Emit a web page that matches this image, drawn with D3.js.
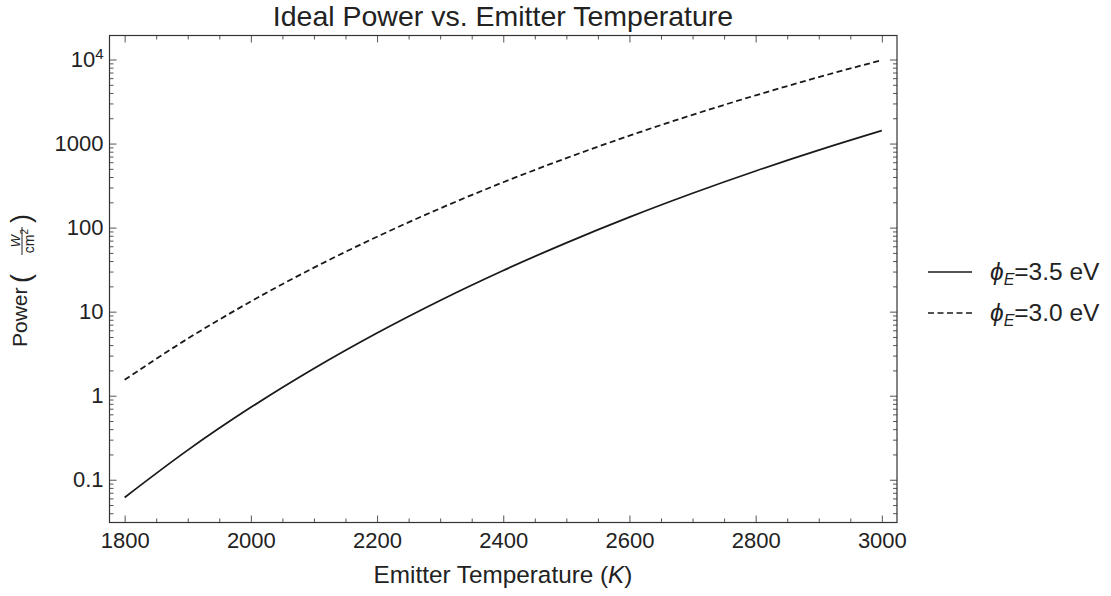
<!DOCTYPE html>
<html>
<head>
<meta charset="utf-8">
<script src="https://cdn.jsdelivr.net/npm/d3@7"></script>
<style>
  body { margin: 0; background: #fff; }
  text { font-family: "Liberation Sans", Arial, Helvetica, sans-serif; fill: #222; }
</style>
</head>
<body>
<svg id="chart" width="1111" height="596"></svg>
<script>
// Emitter temperature samples (K)
const temperatures = [1800, 1900, 2000, 2100, 2200, 2300, 2400, 2500, 2600, 2700, 2800, 2900, 3000];
// Ideal power density (W/cm^2) for each emitter work function
const power35 = [0.0616, 0.2252, 0.7266, 2.107, 5.570, 13.59, 30.88, 65.9, 133.2, 256.2, 471.6, 834.1, 1424];
const power30 = [1.548, 4.774, 13.22, 33.39, 77.86, 169.3, 346.4, 671.5, 1241, 2198, 3745, 6169, 9851];
const seriesLabels = ["=3.5 eV", "=3.0 eV"];
const seriesDash = [null, "6,3.5"];

// Axis ticks
const xMajorTicks = [1800, 2000, 2200, 2400, 2600, 2800, 3000];
const yMajorTicks = [0.1, 1, 10, 100, 1000, 10000];
const yTickLabels = ["0.1", "1", "10", "100", "1000", "10^4"];

const svg = d3.select("#chart");
const frame = { left: 109.5, right: 897, top: 35.5, bottom: 522.5 };

const x = d3.scaleLinear().domain([1776, 3024]).range([frame.left, frame.right]);
const y = d3.scaleLog().domain([0.031, 19300]).range([frame.bottom, frame.top]);

// minor ticks: every 50 K, and 2..9 within each decade
const xMinorTicks = d3.range(1800, 3001, 50).filter(v => !xMajorTicks.includes(v));
const yMinorTicks = [];
for (let e = -2; e <= 4; e++) for (let k = 2; k <= 9; k++) {
  const v = k * Math.pow(10, e);
  if (v > y.domain()[0] && v < y.domain()[1]) yMinorTicks.push(v);
}

const tickColor = "#555";
function axis(gen, translate, values, size, fmt, pad) {
  const g = svg.append("g")
    .attr("transform", `translate(${translate[0]},${translate[1]})`)
    .call(gen.tickValues(values).tickSize(size).tickSizeOuter(0)
      .tickPadding(pad || 3).tickFormat(fmt || (() => "")));
  g.select(".domain").remove();
  g.selectAll("line").attr("stroke", tickColor).attr("stroke-width", 1);
  g.attr("font-family", null).attr("font-size", null);
  return g;
}

// bottom / top
const xb = axis(d3.axisBottom(x), [0, frame.bottom], xMajorTicks, -7, d => String(d), 10);
xb.selectAll("text").attr("font-size", 22).attr("fill", "#222");
axis(d3.axisBottom(x), [0, frame.bottom], xMinorTicks, -4);
axis(d3.axisTop(x), [0, frame.top], xMajorTicks, -7);
axis(d3.axisTop(x), [0, frame.top], xMinorTicks, -4);

// left / right
const yl = axis(d3.axisLeft(y), [frame.left, 0], yMajorTicks, -7,
  d => yTickLabels[yMajorTicks.indexOf(d)], 6);
yl.selectAll("text").attr("font-size", 22).attr("fill", "#222")
  .each(function(d) {
    const lab = yTickLabels[yMajorTicks.indexOf(d)];
    if (lab.includes("^")) {
      const [base, ex] = lab.split("^");
      const t = d3.select(this).text(null);
      t.append("tspan").text(base);
      t.append("tspan").attr("font-size", 15).attr("dy", "-0.55em").text(ex);
    }
  });
axis(d3.axisLeft(y), [frame.left, 0], yMinorTicks, -4);
axis(d3.axisRight(y), [frame.right, 0], yMajorTicks, -7);
axis(d3.axisRight(y), [frame.right, 0], yMinorTicks, -4);

// frame
svg.append("rect")
  .attr("x", frame.left).attr("y", frame.top)
  .attr("width", frame.right - frame.left).attr("height", frame.bottom - frame.top)
  .attr("fill", "none").attr("stroke", "#333").attr("stroke-width", 1.2);

// curves
const series = [power35, power30];
const line = d3.line().curve(d3.curveMonotoneX)
  .x((d, i) => x(temperatures[i])).y(d => y(d));
series.forEach((vals, i) => {
  svg.append("path").datum(vals)
    .attr("d", line)
    .attr("fill", "none").attr("stroke", "#1a1a1a").attr("stroke-width", 1.8)
    .attr("stroke-dasharray", seriesDash[i]);
});

// title
svg.append("text").attr("x", 503).attr("y", 26).attr("text-anchor", "middle")
  .attr("font-size", 28.5).text("Ideal Power vs. Emitter Temperature");

// x label
const xlab = svg.append("text").attr("x", 503).attr("y", 583).attr("text-anchor", "middle")
  .attr("font-size", 24.3);
xlab.append("tspan").text("Emitter Temperature (");
xlab.append("tspan").attr("font-style", "italic").text("K");
xlab.append("tspan").text(")");

// y label: Power (W / cm^2)
const ylab = svg.append("g").attr("transform", "translate(27,300) rotate(-90)");
ylab.append("text").attr("x", -47).attr("y", 0).attr("font-size", 21).text("Power");
ylab.append("text").attr("x", 17).attr("y", 3).attr("font-size", 27).text("(");
ylab.append("text").attr("x", 77).attr("y", 3).attr("font-size", 27).text(")");
ylab.append("line").attr("x1", 45).attr("x2", 73).attr("y1", -5).attr("y2", -5)
  .attr("stroke", "#222").attr("stroke-width", 1);
ylab.append("text").attr("x", 59).attr("y", -7.5).attr("text-anchor", "middle")
  .attr("font-size", 13).attr("font-style", "italic").text("W");
const cm = ylab.append("text").attr("x", 59).attr("y", 6.5).attr("text-anchor", "middle")
  .attr("font-size", 14);
cm.append("tspan").text("cm");
cm.append("tspan").attr("font-size", 10).attr("dy", "-0.6em").text("2");

// legend
const legend = svg.append("g");
seriesLabels.forEach((lab, i) => {
  const ly = 272 + i * 41;
  legend.append("line").attr("x1", 928).attr("x2", 972).attr("y1", ly).attr("y2", ly)
    .attr("stroke", "#1a1a1a").attr("stroke-width", 1.6).attr("stroke-dasharray", seriesDash[i]);
  const t = legend.append("text").attr("x", 990).attr("y", ly + 8).attr("font-size", 24.5);
  t.append("tspan").attr("font-style", "italic").text("ϕ");
  t.append("tspan").attr("font-style", "italic").attr("font-size", 16).attr("dy", 5).text("E");
  t.append("tspan").attr("dy", -5).text(lab);
});
</script>
</body>
</html>
